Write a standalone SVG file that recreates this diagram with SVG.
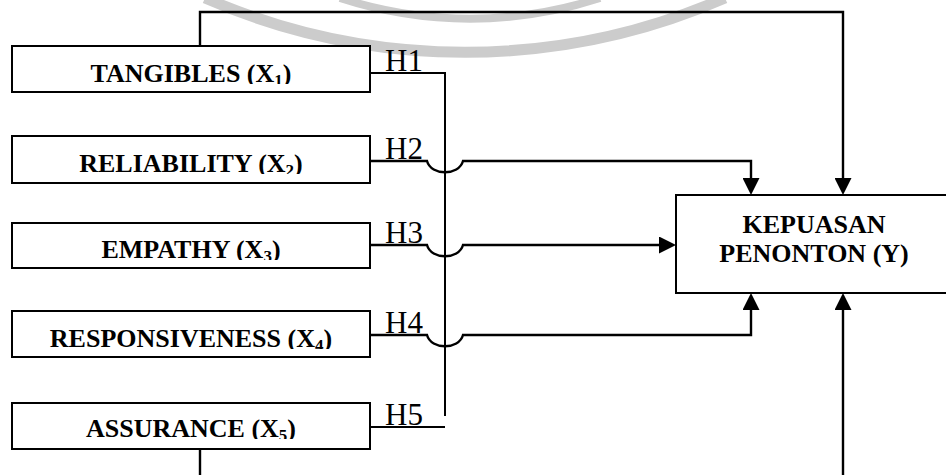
<svg xmlns="http://www.w3.org/2000/svg" width="946" height="475" viewBox="0 0 946 475">
  <style>
    .box { fill: #ffffff; stroke: #000000; stroke-width: 2; }
    .lbl { font-family: "Liberation Serif", "Times New Roman", serif; font-weight: bold; font-size: 26px; fill: #000000; text-anchor: middle; }
    .hyp { font-family: "Liberation Serif", "Times New Roman", serif; font-size: 31px; fill: #000000; }
    .wire { fill: none; stroke: #000000; stroke-width: 2; }
    .link { fill: none; stroke: #000000; stroke-width: 2.4; marker-end: url(#head); }
    .mark { fill: none; stroke: #cccccc; }
  </style>
  <defs>
    <marker id="head" viewBox="0 0 17 17" refX="8" refY="8.5" markerWidth="17" markerHeight="17" markerUnits="userSpaceOnUse" orient="auto">
      <path d="M0,0 L17,8.5 L0,17 Z" fill="#000000"/>
    </marker>
    <clipPath id="c1"><rect x="12" y="46" width="358" height="38"/></clipPath>
    <clipPath id="c2"><rect x="12" y="136" width="358" height="38"/></clipPath>
    <clipPath id="c3"><rect x="12" y="223" width="358" height="37"/></clipPath>
    <clipPath id="c4"><rect x="12" y="311" width="358" height="38"/></clipPath>
    <clipPath id="c5"><rect x="12" y="403" width="358" height="36"/></clipPath>
  </defs>

  <!-- faint background emblem -->
  <g id="emblem">
    <path class="mark" stroke-width="11" d="M205,-2 A650,650 0 0 0 725,-2"/>
    <path class="mark" stroke-width="8" d="M340,-2 A420,420 0 0 0 600,-2"/>
  </g>

  <!-- connectors -->
  <g id="connectors">
    <path class="link" d="M200,46 V12 H843 V186"/>
    <path class="wire" d="M370,73 H445 V416"/>
    <path class="link" d="M370,161 H427 C431,176 459,176 463,161 H751 V186"/>
    <path class="link" d="M370,245 H427 C431,260 459,260 463,245 H667"/>
    <path class="link" d="M370,335 H427 C431,350 459,350 463,335 H751 V302"/>
    <path class="wire" d="M370,427 H445"/>
    <path class="link" d="M200,449 V495 H843 V302"/>
    <text class="hyp" x="385" y="71">H1</text>
    <text class="hyp" x="385" y="159">H2</text>
    <text class="hyp" x="385" y="243">H3</text>
    <text class="hyp" x="385" y="333">H4</text>
    <text class="hyp" x="385" y="425">H5</text>
  </g>

  <g id="tangibles">
    <rect class="box" x="12" y="46" width="358" height="46"/>
    <text class="lbl" x="191" y="81.5" clip-path="url(#c1)">TANGIBLES (X<tspan font-size="17" dy="4">1</tspan><tspan dy="-4">)</tspan></text>
  </g>
  <g id="reliability">
    <rect class="box" x="12" y="136" width="358" height="47"/>
    <text class="lbl" x="191" y="171.5" clip-path="url(#c2)">RELIABILITY (X<tspan font-size="17" dy="4">2</tspan><tspan dy="-4">)</tspan></text>
  </g>
  <g id="empathy">
    <rect class="box" x="12" y="223" width="358" height="45"/>
    <text class="lbl" x="191" y="258" clip-path="url(#c3)">EMPATHY (X<tspan font-size="17" dy="4">3</tspan><tspan dy="-4">)</tspan></text>
  </g>
  <g id="responsiveness">
    <rect class="box" x="12" y="311" width="358" height="46"/>
    <text class="lbl" x="191" y="346.5" clip-path="url(#c4)">RESPONSIVENESS (X<tspan font-size="17" dy="4">4</tspan><tspan dy="-4">)</tspan></text>
  </g>
  <g id="assurance">
    <rect class="box" x="12" y="403" width="358" height="46"/>
    <text class="lbl" x="191" y="437" clip-path="url(#c5)">ASSURANCE (X<tspan font-size="17" dy="4">5</tspan><tspan dy="-4">)</tspan></text>
  </g>
  <g id="kepuasan">
    <rect class="box" x="676" y="195" width="276" height="98"/>
    <text class="lbl" x="814" y="233">KEPUASAN</text>
    <text class="lbl" x="814" y="262">PENONTON (Y)</text>
  </g>
</svg>
